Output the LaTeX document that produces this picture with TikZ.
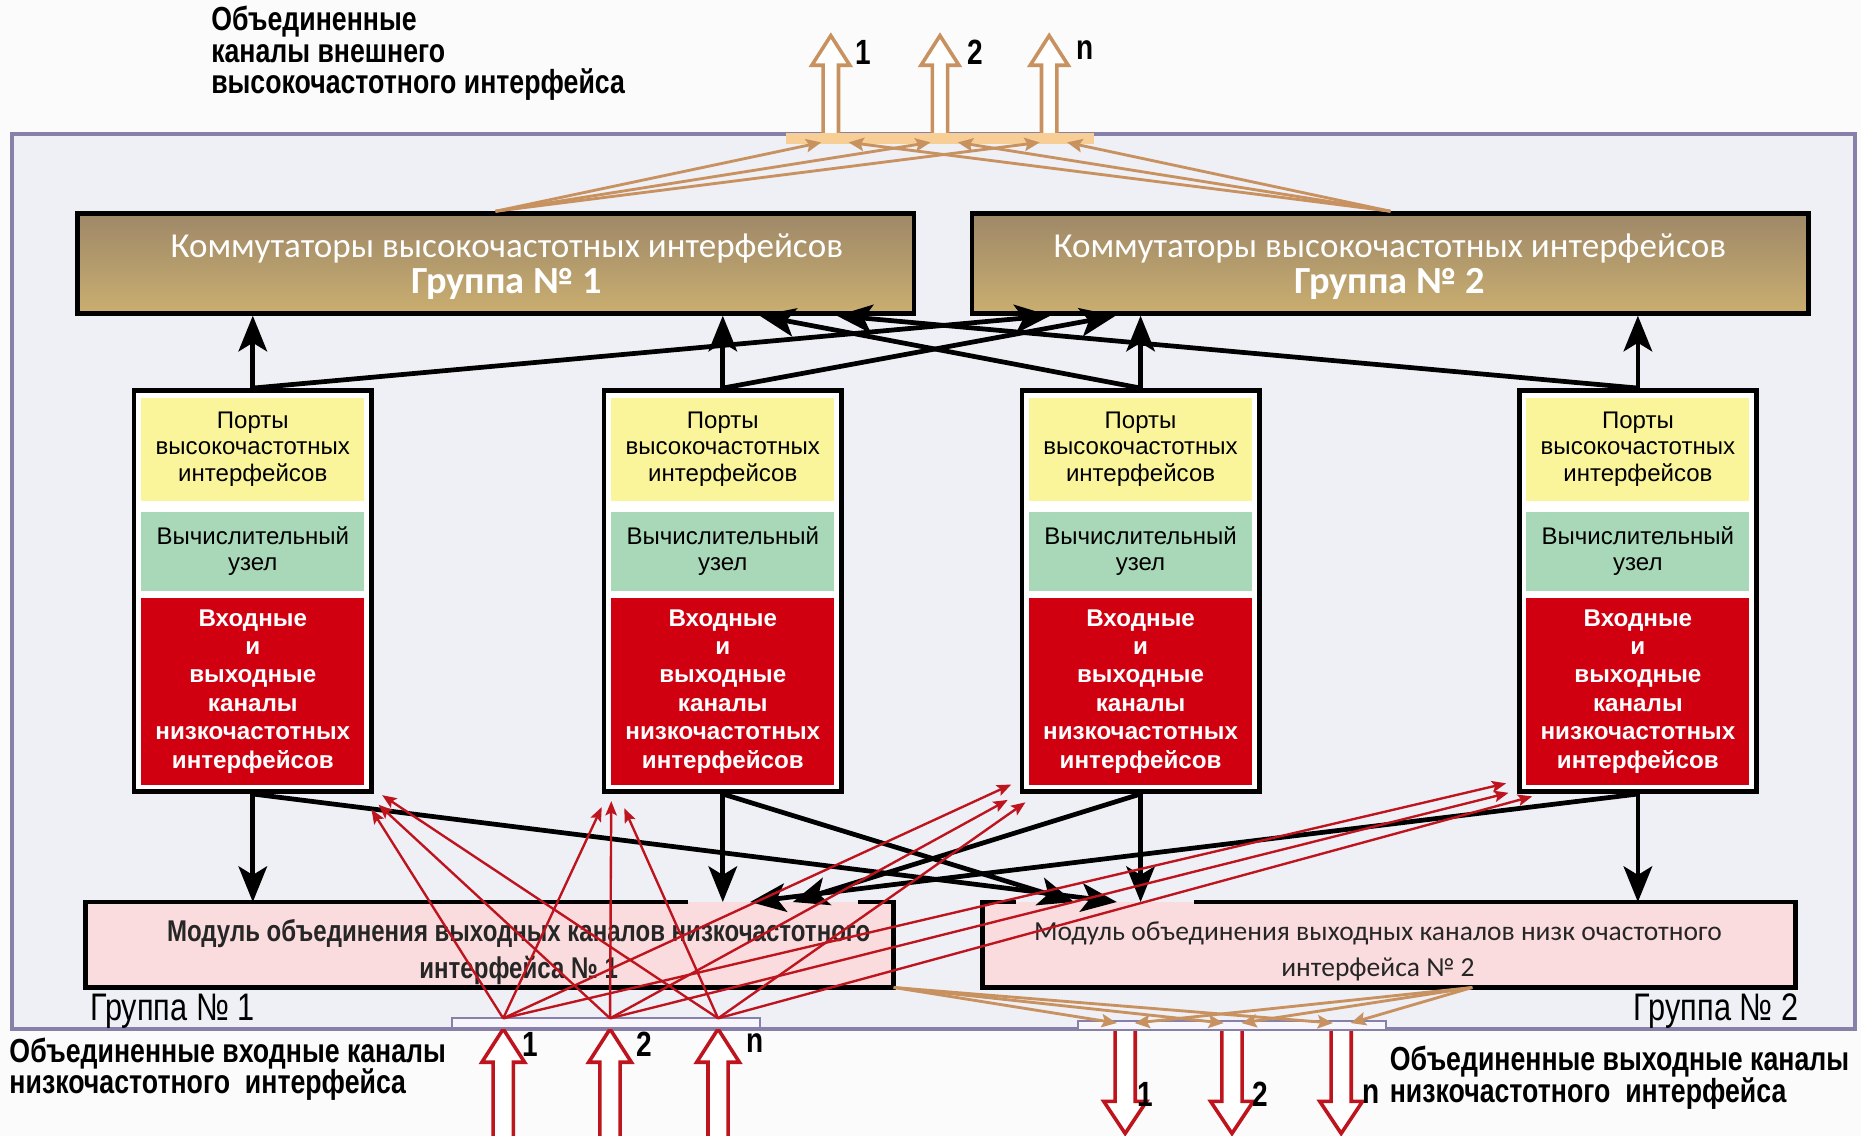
\documentclass[tikz,border=0pt]{standalone}
\usepackage{fontspec}
\setmainfont{Liberation Sans}
\newfontfamily\narrowfont{Liberation Sans}[FakeStretch=0.8]
\newfontfamily\calfont{Carlito}
\usepackage{tikz}
\usetikzlibrary{arrows.meta,calc}
\definecolor{pagebg}{RGB}{251,251,251}
\definecolor{framefill}{RGB}{239,239,246}
\definecolor{frameline}{RGB}{136,128,168}
\definecolor{switchtop}{RGB}{158,136,104}
\definecolor{switchbot}{RGB}{202,174,112}
\definecolor{tanline}{RGB}{200,146,96}
\definecolor{barorange}{RGB}{247,206,150}
\definecolor{portyellow}{RGB}{250,245,155}
\definecolor{nodegreen}{RGB}{168,216,184}
\definecolor{chanred}{RGB}{208,0,16}
\definecolor{modpink}{RGB}{250,220,222}
\definecolor{arrowred}{RGB}{190,20,30}
\definecolor{barfill}{RGB}{246,246,252}
\newcommand{\fatarrow}[7]{% style, x, tail y, head-base y, tip y, shaft half, head half
  \draw[#1] ({#2-#6},#3) -- ({#2-#6},#4) -- ({#2-#7},#4) -- (#2,#5)
    -- ({#2+#7},#4) -- ({#2+#6},#4) -- ({#2+#6},#3) -- cycle;}
\tikzset{
  base/.style={inner sep=0pt, outer sep=0pt, align=center, text=black},
  frame/.style={draw=frameline, fill=framefill, line width=0.75mm},
  switchbox/.style={base, outer sep=0.5mm, draw=black, line width=1mm, top color=switchtop, bottom color=switchbot, minimum width=176.25mm, minimum height=21mm},
  swtext/.style={base, text=white, font=\calfont\fontsize{21}{21.5}\selectfont},
  unitbox/.style={draw=black, line width=1mm, fill=white, inner sep=0pt, minimum width=50mm, minimum height=84.5mm},
  portbox/.style={base, fill=portyellow, minimum width=47mm, minimum height=21.75mm, font=\fontsize{14.4}{15.6}\selectfont},
  calcbox/.style={base, fill=nodegreen, minimum width=47mm, minimum height=16.75mm, font=\fontsize{14.4}{15.6}\selectfont},
  chanbox/.style={base, fill=chanred, minimum width=47mm, minimum height=39.25mm, text=white, font=\bfseries\fontsize{14.5}{17}\selectfont},
  modbox/.style={base, fill=modpink, minimum height=18mm},
  modline/.style={draw=black, line width=1mm},
  modtext/.style={base, font=\narrowfont\bfseries\fontsize{18}{22}\selectfont, text=black!85},
  modtext2/.style={base, font=\calfont\fontsize{16.5}{22}\selectfont, text=black!85},
  topbar/.style={base, fill=barorange, minimum width=65mm, minimum height=2.25mm},
  lowbar/.style={base, draw=frameline, fill=barfill, line width=0.4mm, minimum width=65mm, minimum height=2mm},
  caption/.style={base, align=left, font=\narrowfont\bfseries\fontsize{20}{19}\selectfont},
  grplbl/.style={base, font=\narrowfont\fontsize{23}{23}\selectfont},
  numlbl/.style={base, font=\narrowfont\bfseries\fontsize{21}{21}\selectfont},
  hollowtan/.style={draw=tanline, fill=white, line width=0.75mm},
  hollowred/.style={draw=arrowred, fill=white, line width=0.75mm},
  blk/.style={draw=black, line width=1mm, -{Stealth[length=7.5mm,width=6mm,inset=1.8mm]}},
  redarr/.style={draw=arrowred, line width=0.5mm, -{Stealth[length=3mm,width=2.4mm,inset=0.6mm]}},
  tanarr/.style={draw=tanline, line width=0.6mm, -{Stealth[length=3.2mm,width=2.8mm,inset=0.6mm]}},
}

\begin{document}
\begin{tikzpicture}[x=0.25mm, y=-0.25mm]
  \useasboundingbox (0,0) rectangle (1568,957);
  \fill[pagebg] (0,0) rectangle (1568,957);
  % outer frame
  \draw[frame] (10,113) rectangle (1563,867);

  % external high-frequency outputs
  \node[caption, anchor=west] (capext) at (178,45) {Объединенные\\каналы внешнего\\высокочастотного интерфейса};
  \fatarrow{hollowtan}{700}{118}{55}{30}{6.5}{16}
  \fatarrow{hollowtan}{792}{118}{55}{30}{6.5}{16}
  \fatarrow{hollowtan}{884}{118}{55}{30}{6.5}{16}
  \node[topbar] (topbar) at (792,116.5) {};
  \coordinate (hout1) at (700,120);
  \coordinate (hout2) at (792,120);
  \coordinate (houtn) at (884,120);
  \node[numlbl] (hl1) at (727,44) {1};
  \node[numlbl] (hl2) at (822,44) {2};
  \node[numlbl] (hln) at (914,42) {n};

  % switches
  \node[switchbox] (sw1) at (417.5,222) {};
  \node[swtext] (sw1txt) at (427,225) {Коммутаторы высокочастотных интерфейсов\\{\bfseries\fontsize{23}{21.5}\selectfont Группа № 1}};
  \node[switchbox] (sw2) at (1171.5,222) {};
  \node[swtext] (sw2txt) at (1171,225) {Коммутаторы высокочастотных интерфейсов\\{\bfseries\fontsize{23}{21.5}\selectfont Группа № 2}};

  % computing units
  \node[unitbox] (unit1) at (213,498) {};
  \node[portbox] (hf1) at (213,378.5) {Порты\\высокочастотных\\интерфейсов};
  \node[calcbox] (cn1) at (213,464.5) {Вычислительный\\узел};
  \node[chanbox] (lf1) at (213,582.5) {Входные\\и\\выходные\\каналы\\низкочастотных\\интерфейсов};
  \node[unitbox] (unit2) at (609,498) {};
  \node[portbox] (hf2) at (609,378.5) {Порты\\высокочастотных\\интерфейсов};
  \node[calcbox] (cn2) at (609,464.5) {Вычислительный\\узел};
  \node[chanbox] (lf2) at (609,582.5) {Входные\\и\\выходные\\каналы\\низкочастотных\\интерфейсов};
  \node[unitbox] (unit3) at (961,498) {};
  \node[portbox] (hf3) at (961,378.5) {Порты\\высокочастотных\\интерфейсов};
  \node[calcbox] (cn3) at (961,464.5) {Вычислительный\\узел};
  \node[chanbox] (lf3) at (961,582.5) {Входные\\и\\выходные\\каналы\\низкочастотных\\интерфейсов};
  \node[unitbox] (unit4) at (1380,498) {};
  \node[portbox] (hf4) at (1380,378.5) {Порты\\высокочастотных\\интерфейсов};
  \node[calcbox] (cn4) at (1380,464.5) {Вычислительный\\узел};
  \node[chanbox] (lf4) at (1380,582.5) {Входные\\и\\выходные\\каналы\\низкочастотных\\интерфейсов};

  % low-frequency output modules
  \node[modbox, minimum width=170.25mm] (mod1) at (412.5,796) {};
  \draw[modline] ($(mod1.north west)+(508,0)$) -| (mod1.south west) -| (mod1.north east) -- ++(-30,0);
  \node[modtext] (mod1txt) at (437,802) {Модуль объединения выходных каналов низкочастотного\\интерфейса № 1};
  \node[modbox, minimum width=171.25mm] (mod2) at (1170.5,796) {};
  \draw[modline] ($(mod2.north west)+(28,0)$) -| (mod2.south west) -| (mod2.north east) -- ++(-507,0);
  \node[modtext2] (mod2txt) at (1161,801.5) {Модуль объединения выходных каналов низк очастотного\\интерфейса № 2};
  \node[grplbl, anchor=west] (grp1) at (76,852) {Группа № 1};
  \node[grplbl, anchor=east] (grp2) at (1515,852) {Группа № 2};

  % low-frequency inputs and outputs
  \fatarrow{hollowred}{424}{962}{895}{867}{8.5}{18}
  \fatarrow{hollowred}{514}{962}{895}{867}{8.5}{18}
  \fatarrow{hollowred}{605}{962}{895}{867}{8.5}{18}
  \fatarrow{hollowred}{948}{866}{928}{955}{8.5}{18}
  \fatarrow{hollowred}{1038}{866}{928}{955}{8.5}{18}
  \fatarrow{hollowred}{1130}{866}{928}{955}{8.5}{18}
  \node[lowbar] (inbar) at (510.5,862) {};
  \node[lowbar] (outbar) at (1038,864) {};
  \coordinate (lin1) at (424,858);
  \coordinate (lin2) at (514,858);
  \coordinate (linn) at (605,858);
  \coordinate (lout1) at (948,862);
  \coordinate (lout2) at (1038,862);
  \coordinate (loutn) at (1130,862);
  \node[numlbl] (il1) at (447,880) {1};
  \node[numlbl] (il2) at (543,880) {2};
  \node[numlbl] (iln) at (636,879) {n};
  \node[numlbl] (ol1) at (965,922) {1};
  \node[numlbl] (ol2) at (1062,922) {2};
  \node[numlbl] (oln) at (1155,922) {n};
  \node[caption, anchor=west] (capin) at (8,901) {Объединенные входные каналы\\низкочастотного\ \ интерфейса};
  \node[caption, anchor=west] (capout) at (1171,908) {Объединенные выходные каналы\\низкочастотного\ \ интерфейса};

  % units to switches
  \draw[blk] (unit1.north) -- (unit1.north |- sw1.south);
  \draw[blk] (unit2.north) -- (unit2.north |- sw1.south);
  \draw[blk] (unit3.north) -- (unit3.north |- sw2.south);
  \draw[blk] (unit4.north) -- (unit4.north |- sw2.south);
  \draw[blk] (unit1.north) -- (885,0 |- sw2.south);
  \draw[blk] (unit2.north) -- (940,0 |- sw2.south);
  \draw[blk] (unit3.north) -- (640,0 |- sw1.south);
  \draw[blk] (unit4.north) -- (705,0 |- sw1.south);

  % units to output modules
  \draw[blk] (unit1.south) -- (unit1.south |- mod1.north);
  \draw[blk] (unit2.south) -- (unit2.south |- mod1.north);
  \draw[blk] (unit3.south) -- (unit3.south |- mod2.north);
  \draw[blk] (unit4.south) -- (unit4.south |- mod2.north);
  \draw[blk] (unit1.south) -- (941,0 |- mod2.north);
  \draw[blk] (unit2.south) -- (905,0 |- mod2.north);
  \draw[blk] (unit3.south) -- (668,0 |- mod1.north);
  \draw[blk] (unit4.south) -- (632,0 |- mod1.north);

  % inputs to units
  \draw[redarr] (lin1) -- ($(unit1.south east)+(-2,13)$);
  \draw[redarr] (lin2) -- ($(unit1.south east)+(4,9)$);
  \draw[redarr] (linn) -- ($(unit1.south east)+(7,1)$);
  \draw[redarr] (lin1) -- ($(unit2.south west)+(0,11)$);
  \draw[redarr] (lin2) -- ($(unit2.south west)+(8,6)$);
  \draw[redarr] (linn) -- ($(unit2.south west)+(19,12)$);
  \draw[redarr] (lin1) -- ($(unit3.south west)+(-7,-8)$);
  \draw[redarr] (lin2) -- ($(unit3.south west)+(-10,5)$);
  \draw[redarr] (linn) -- ($(unit3.south west)+(5,7)$);
  \draw[redarr] (lin1) -- ($(unit4.south west)+(-9,-9)$);
  \draw[redarr] (lin2) -- ($(unit4.south west)+(-7,-1)$);
  \draw[redarr] (linn) -- ($(unit4.south west)+(13,2)$);

  % switches to external outputs
  \draw[tanarr] (sw1.north) -- ($(hout1)+(-8,0)$);
  \draw[tanarr] (sw1.north) -- ($(hout2)+(-8,0)$);
  \draw[tanarr] (sw1.north) -- ($(houtn)+(-8,0)$);
  \draw[tanarr] (sw2.north) -- ($(hout1)+(15,0)$);
  \draw[tanarr] (sw2.north) -- ($(hout2)+(15,0)$);
  \draw[tanarr] (sw2.north) -- ($(houtn)+(15,0)$);

  % modules to low-frequency outputs
  \draw[tanarr] (mod1.south east) -- ($(lout1)+(-7,0)$);
  \draw[tanarr] (mod1.south east) -- ($(lout2)+(-7,0)$);
  \draw[tanarr] (mod1.south east) -- ($(loutn)+(-7,0)$);
  \draw[tanarr] ($(mod2.south)+(70,0)$) -- ($(lout1)+(8,0)$);
  \draw[tanarr] ($(mod2.south)+(70,0)$) -- ($(lout2)+(8,0)$);
  \draw[tanarr] ($(mod2.south)+(70,0)$) -- ($(loutn)+(8,0)$);
\end{tikzpicture}
\end{document}
